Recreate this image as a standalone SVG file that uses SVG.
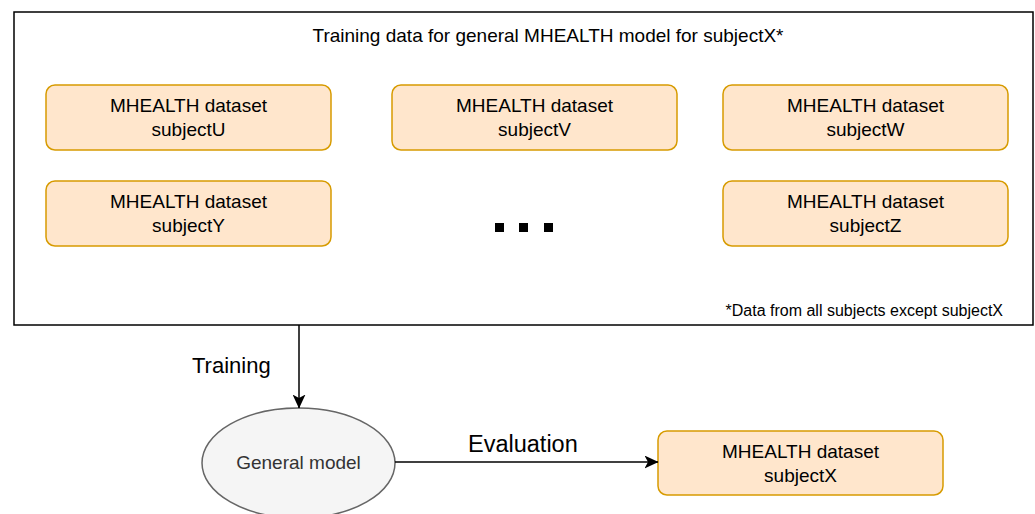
<svg xmlns="http://www.w3.org/2000/svg" width="1035" height="514" viewBox="0 0 1035 514">
<defs>
<style>
text{font-family:"Liberation Sans",Arial,sans-serif;fill:#000}
.ds rect{fill:#ffe6cc;stroke:#d79b00;stroke-width:1.5}
.ds text{font-size:19px;text-anchor:middle}
.edge{stroke:#000;stroke-width:1.5;fill:none}
</style>
<marker id="arr" viewBox="0 0 14 13" refX="13.5" refY="6.5" markerWidth="14" markerHeight="13" markerUnits="userSpaceOnUse" orient="auto"><path d="M0,0 L14,6.5 L0,13 L3.5,6.5 Z" fill="#000"/></marker>
</defs>
<rect width="1035" height="514" fill="#fff"/>
<g id="container">
<rect x="14" y="12" width="1019" height="313" fill="#fff" stroke="#000" stroke-width="1.5"/>
<text x="548" y="42" font-size="19" text-anchor="middle">Training data for general MHEALTH model for subjectX*</text>
<text x="1003" y="316" font-size="16" text-anchor="end">*Data from all subjects except subjectX</text>
</g>
<g id="subjectU" class="ds"><rect x="46" y="85" width="285" height="65" rx="9"/><text x="188.5" y="112">MHEALTH dataset</text><text x="188.5" y="136">subjectU</text></g>
<g id="subjectV" class="ds"><rect x="392" y="85" width="285" height="65" rx="9"/><text x="534.5" y="112">MHEALTH dataset</text><text x="534.5" y="136">subjectV</text></g>
<g id="subjectW" class="ds"><rect x="723" y="85" width="285" height="65" rx="9"/><text x="865.5" y="112">MHEALTH dataset</text><text x="865.5" y="136">subjectW</text></g>
<g id="subjectY" class="ds"><rect x="46" y="181" width="285" height="65" rx="9"/><text x="188.5" y="208">MHEALTH dataset</text><text x="188.5" y="232">subjectY</text></g>
<g id="subjectZ" class="ds"><rect x="723" y="181" width="285" height="65" rx="9"/><text x="865.5" y="208">MHEALTH dataset</text><text x="865.5" y="232">subjectZ</text></g>
<g id="dots" fill="#000"><rect x="495" y="223" width="9" height="9"/><rect x="519" y="223" width="9" height="9"/><rect x="544" y="223" width="9" height="9"/></g>
<g id="general">
<ellipse cx="298.5" cy="463" rx="96.5" ry="55" fill="#f5f5f5" stroke="#666" stroke-width="1.5"/>
<text x="298.5" y="469" font-size="19" text-anchor="middle" style="fill:#333">General model</text>
</g>
<g id="subjectX" class="ds"><rect x="658" y="431" width="285" height="64" rx="9"/><text x="800.5" y="458">MHEALTH dataset</text><text x="800.5" y="482">subjectX</text></g>
<g id="connectors">
<path class="edge" d="M299,325 L299,408" marker-end="url(#arr)"/>
<text x="192" y="373" font-size="22">Training</text>
<path class="edge" d="M395,462 L658,462" marker-end="url(#arr)"/>
<text x="468" y="452" font-size="23.5">Evaluation</text>
</g>
</svg>
